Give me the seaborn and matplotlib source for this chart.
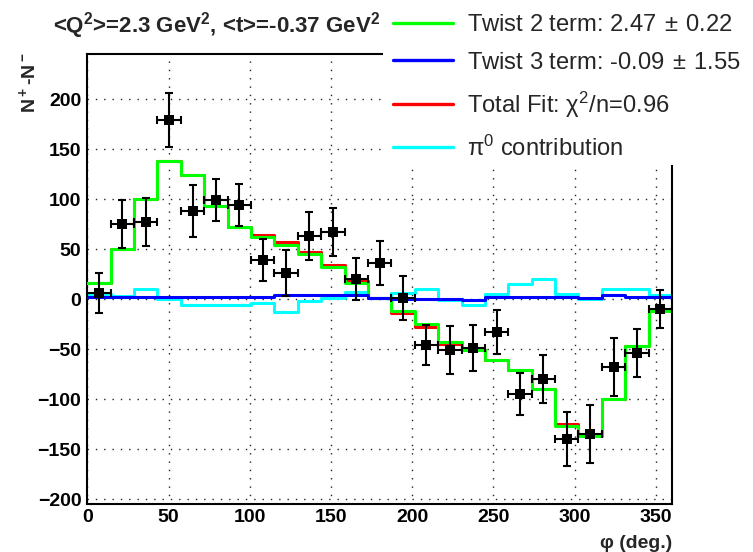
import numpy as np
import pandas as pd
import matplotlib
matplotlib.use("Agg")
import matplotlib.pyplot as plt
import seaborn as sns
from matplotlib.lines import Line2D
from matplotlib.patches import Rectangle
from matplotlib.ticker import MultipleLocator

# ---- data -------------------------------------------------------------
phi_min, phi_max, n_bins = 0.0, 360.0, 25

# measured N+ - N- per phi bin, with statistical errors
asym = [6, 75, 77, 179, 88, 99, 94, 39, 26, 63, 67, 20, 36, 1,
        -46, -51, -49, -33, -95, -80, -140, -135, -68, -54, -10]
asym_err = [20, 24, 24, 27, 26, 21, 21, 21, 23, 24, 24, 21, 22, 22,
            20, 24, 23, 22, 21, 24, 27, 29, 29, 24, 19]

# fit components per phi bin
twist2 = [16, 50, 100, 138, 124, 93, 72, 62, 54, 45, 32, 16, 1, -12,
          -25, -43, -51, -61, -71, -90, -127, -137, -100, -47, -12]
twist3 = [2, 2, 2, 2, 2, 2, 2, 2, 4, 4, 4, 4, 1, 0,
          0, 0, -1, 2, 2, 2, 2, 1, 4, 2, 2]
total = [16, 50, 100, 138, 124, 93, 72, 64, 57, 47, 34, 18, 1, -14,
         -28, -45, -51, -61, -71, -90, -125, -136, -100, -47, -10]
pi0 = [5.5, 3, 10, 0, -5.5, -5.5, -5.5, -4, -13, -2, 1, 7, 1.5, 6,
       10, -0.5, -5.5, 5, 15.5, 20, 5, 0.5, 10.5, 10.5, 4.5]

labels = ["Twist 2 term: 2.47$\\,\\pm\\,$0.22",
          "Twist 3 term: -0.09$\\,\\pm\\,$1.55",
          "Total Fit: χ$^2$/n=0.96",
          "π$^0$ contribution"]
colors = {"twist2": "#00ff00", "twist3": "#0000ff",
          "total": "#ff0000", "pi0": "#00ffff"}

edges = np.linspace(phi_min, phi_max, n_bins + 1)
centers = 0.5 * (edges[:-1] + edges[1:])
half_width = 0.5 * np.diff(edges)

df = pd.DataFrame({"phi": centers, "asym": asym, "err": asym_err,
                   "twist2": twist2, "twist3": twist3,
                   "total": total, "pi0": pi0})

# ---- style ------------------------------------------------------------
sns.set_style("white")
plt.rcParams["font.family"] = ["Liberation Sans", "DejaVu Sans"]
plt.rcParams["mathtext.default"] = "regular"

W, H = 753, 552
fig = plt.figure(figsize=(W / 100, H / 100), dpi=100)
ax = fig.add_axes([87.3 / W, 1 - 504 / H, (672 - 87.3) / W, (504 - 54) / H])

# ---- histograms (fit components) --------------------------------------
lw = 2.2
for key, z in [("pi0", 2), ("total", 3), ("twist2", 4), ("twist3", 5)]:
    sns.histplot(data=df, x="phi", weights=key, bins=n_bins,
                 binrange=(phi_min, phi_max), element="step",
                 fill=False, color=colors[key], linewidth=lw, ax=ax,
                 zorder=z)

# ---- data points ------------------------------------------------------
ax.errorbar(df["phi"], df["asym"], yerr=df["err"], xerr=half_width,
            fmt="none", ecolor="black", elinewidth=1.5, capsize=2.9,
            capthick=1.5, zorder=6)
sns.scatterplot(data=df, x="phi", y="asym", marker="s", s=62,
                color="black", edgecolor="black", linewidth=0, ax=ax,
                zorder=7)

# ---- axes -------------------------------------------------------------
ax.set_xlim(phi_min, phi_max)
ax.set_ylim(-204.5, 245)
ax.xaxis.set_major_locator(MultipleLocator(50))
ax.xaxis.set_minor_locator(MultipleLocator(10))
ax.yaxis.set_major_locator(MultipleLocator(50))
ax.yaxis.set_minor_locator(MultipleLocator(10))

ax.tick_params(axis="both", which="both", direction="in", width=1.4,
               top=False, right=False, colors="black")
ax.tick_params(axis="x", which="major", length=9.5, pad=3.6)
ax.tick_params(axis="x", which="minor", length=5)
ax.tick_params(axis="y", which="major", length=13.5, pad=4.3)
ax.tick_params(axis="y", which="minor", length=6.5)
for lab in ax.get_xticklabels() + ax.get_yticklabels():
    lab.set_fontsize(14)
    lab.set_fontweight("bold")

for sp in ax.spines.values():
    sp.set_visible(True)
    sp.set_color("black")
    sp.set_linewidth(1.5)

ax.grid(True, which="major", color="#222222", linestyle=(0, (1, 5)),
        linewidth=1.0)
ax.set_axisbelow(True)

ax.set_xlabel("")
ax.set_ylabel("")
fig.text(672 / W, 1 - 543 / H, "φ (deg.)", ha="right", va="center",
         fontsize=14, fontweight="bold")
fig.text(28 / W, 1 - 52 / H, "N$^+$-N$^-$", ha="center", va="top",
         rotation=90, fontsize=14, fontweight="bold")

# ---- title ------------------------------------------------------------
fig.text(53 / W, 1 - 26 / H,
         "<Q$^2$>=2.3 GeV$^2$, <t>=-0.37 GeV$^2$",
         ha="left", va="center", fontsize=16, fontweight="bold")

# ---- legend -----------------------------------------------------------
fig.add_artist(Rectangle((383 / W, 1 - 165 / H), 1 - 383 / W, 165 / H,
                         transform=fig.transFigure, facecolor="white",
                         edgecolor="none", zorder=3))
handles = [Line2D([], [], color=colors[k], lw=2.4)
           for k in ["twist2", "twist3", "total", "pi0"]]
fig.legend(handles, labels, loc="upper left",
           bbox_to_anchor=(393 / W, 1 - 14 / H), frameon=False,
           fontsize=17.1, handlelength=2.53, handletextpad=0.59,
           labelspacing=0.66, borderaxespad=0, borderpad=0)

fig.savefig("out.png", dpi=100)
